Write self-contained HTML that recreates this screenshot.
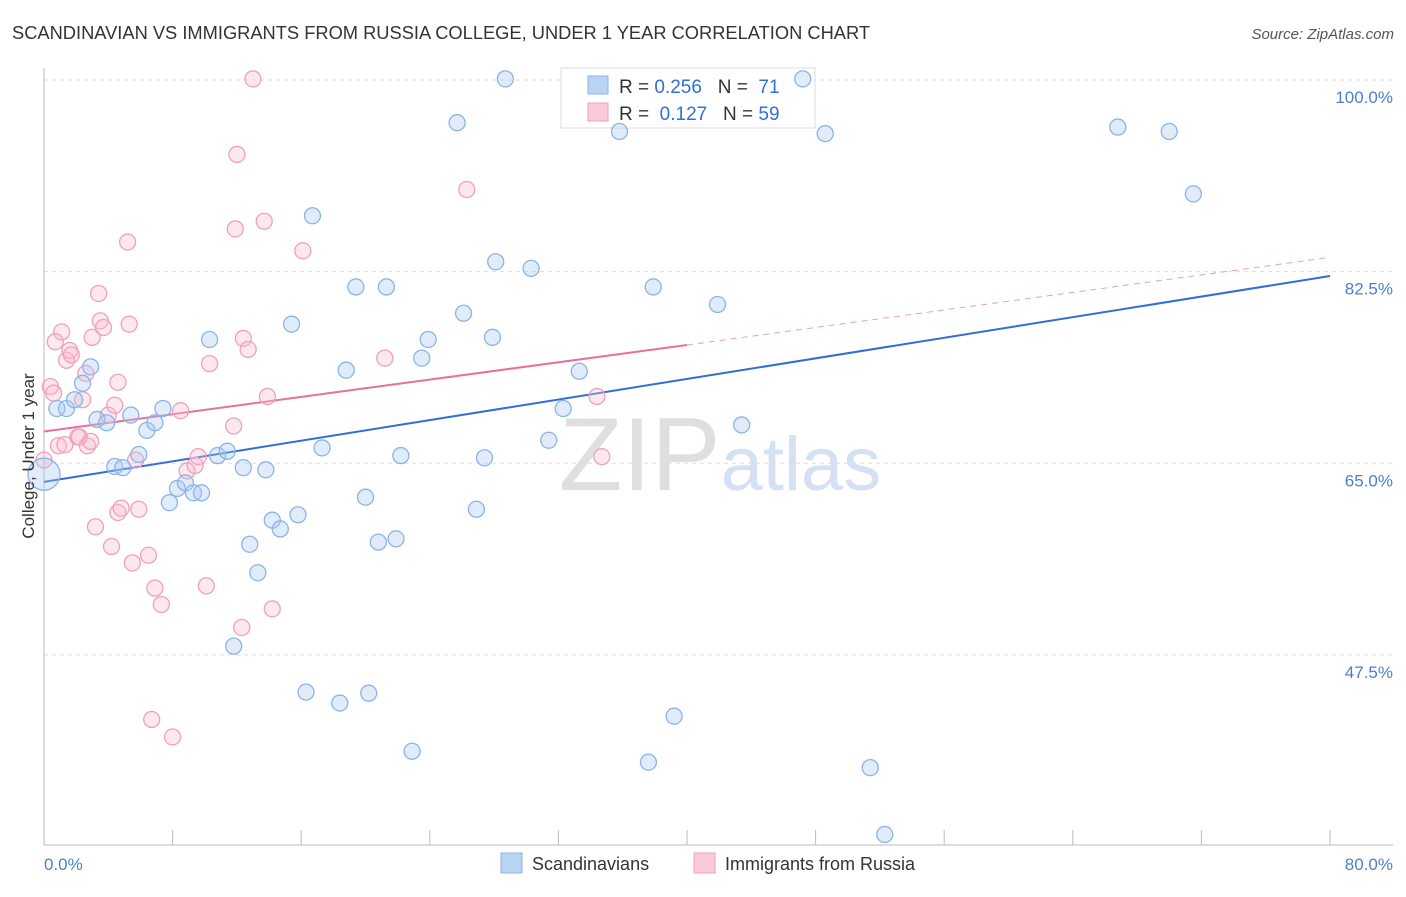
<!DOCTYPE html>
<html><head><meta charset="utf-8"><style>
body{margin:0;background:#fff;font-family:"Liberation Sans",sans-serif}
svg text{font-family:"Liberation Sans",sans-serif}
</style></head><body>
<svg id="chart" width="1406" height="892" viewBox="0 0 1406 892" xmlns="http://www.w3.org/2000/svg">
<text x="12" y="39" font-size="18.3" fill="#333">SCANDINAVIAN VS IMMIGRANTS FROM RUSSIA COLLEGE, UNDER 1 YEAR CORRELATION CHART</text>
<text x="1394" y="39" font-size="15" fill="#555" text-anchor="end" font-style="italic">Source: ZipAtlas.com</text>
<text x="720" y="490" font-size="104" text-anchor="middle" fill="#ddd" font-family="Liberation Serif" opacity="0.8"><tspan fill="#d8d8d8">ZIP</tspan><tspan fill="#c9daf0" font-family="Liberation Sans" font-size="76">atlas</tspan></text>
<g id="grid"></g><g id="axes"></g><g id="trends"></g>
<g>
<rect x="561" y="68" width="254" height="60" fill="#fff" stroke="#ddd"/>
<rect x="588" y="76" width="20" height="18" fill="#b9d3f3" stroke="#8ab4e8"/>
<text x="619" y="93" font-size="19" fill="#333" xml:space="preserve" style="white-space:pre">R = <tspan fill="#2f6fd6">0.256</tspan>   N =  <tspan fill="#2f6fd6">71</tspan></text>
<rect x="588" y="103" width="20" height="18" fill="#fbcad8" stroke="#f0a0b8"/>
<text x="619" y="120" font-size="19" fill="#333" xml:space="preserve" style="white-space:pre">R =  <tspan fill="#2f6fd6">0.127</tspan>   N = <tspan fill="#2f6fd6">59</tspan></text>
</g>
<g id="points"></g>
<text transform="translate(34,456) rotate(-90)" font-size="17" fill="#333" text-anchor="middle">College, Under 1 year</text>
<text x="44" y="870" font-size="17" fill="#4a7fd4">0.0%</text>
<text x="1393" y="870" font-size="17" fill="#4a7fd4" text-anchor="end">80.0%</text>
<g>
<rect x="501" y="853" width="21" height="20" fill="#b9d3f3" stroke="#8ab4e8"/>
<text x="532" y="870" font-size="18" fill="#333">Scandinavians</text>
<rect x="694" y="853" width="21" height="20" fill="#fbcad8" stroke="#f0a0b8"/>
<text x="725" y="870" font-size="18" fill="#333">Immigrants from Russia</text>
</g>
</svg>
<script>
const yTicks=[100,82.5,65,47.5];
const xTicks=[0,8,16,24,32,40,48,56,64,72,80];
const blueX=[0,0.8,1.4,1.9,2.4,2.9,3.3,3.9,4.4,4.9,5.4,5.9,6.4,6.9,7.4,7.8,8.3,8.8,9.3,9.8,10.3,10.8,11.4,11.8,12.4,12.8,13.3,13.8,14.2,14.7,15.4,15.8,16.3,16.7,17.3,18.4,18.8,19.4,20.0,20.2,20.8,21.3,21.9,22.2,22.9,23.5,23.9,25.7,26.1,26.9,27.4,27.9,28.1,28.7,30.3,31.4,32.3,33.3,35.8,37.6,37.9,39.2,41.9,43.4,47.2,48.6,51.4,52.3,66.8,70.0,71.5];
const blueY=[64.0,70.0,70.0,70.8,72.3,73.8,69.0,68.7,64.7,64.6,69.4,65.8,68.0,68.7,70.0,61.4,62.7,63.2,62.3,62.3,76.3,65.7,66.1,48.3,64.6,57.6,55.0,64.4,59.8,59.0,77.7,60.3,44.1,87.6,66.4,43.1,73.5,81.1,61.9,44.0,57.8,81.1,58.1,65.7,38.7,74.6,76.3,96.1,78.7,60.8,65.5,76.5,83.4,100.1,82.8,67.1,70.0,73.4,95.3,37.7,81.1,41.9,79.5,68.5,100.1,95.1,37.2,31.1,95.7,95.3,89.6];
const pinkX=[0,0.4,0.6,0.9,1.1,0.7,1.4,1.6,1.7,2.1,2.2,2.4,2.6,2.7,2.9,3.0,3.2,3.4,3.5,3.7,4.0,4.2,4.4,4.6,4.6,4.8,5.2,5.3,5.5,5.7,5.9,6.5,6.9,7.3,6.7,8.0,8.5,8.9,9.4,9.6,10.1,10.3,11.8,11.9,12.0,12.3,12.4,12.7,13.0,13.7,13.9,14.2,16.1,21.2,26.3,34.4,34.7,1.3];
const pinkY=[65.3,72.0,71.4,66.6,77.0,76.1,74.4,75.3,74.9,67.4,67.4,70.8,73.2,66.6,67.0,76.5,59.2,80.5,78.0,77.4,69.4,57.4,70.3,72.4,60.5,60.9,85.2,77.7,55.9,65.3,60.8,56.6,53.6,52.1,41.6,40.0,69.8,64.3,64.8,65.6,53.8,74.1,68.4,86.4,93.2,50.0,76.4,75.4,100.1,87.1,71.1,51.7,84.4,74.6,90.0,71.1,65.6,66.7];
const blueTrend=[63.3,82.1];
const pinkTrend=[67.9,75.8,83.8];
const NS="http://www.w3.org/2000/svg";
const X=v=>44+v/80*1286;
const Y=v=>80+(100-v)*10.95;
function mk(tag,attrs,parent){const e=document.createElementNS(NS,tag);for(const k in attrs)e.setAttribute(k,attrs[k]);document.getElementById(parent).appendChild(e);return e;}
yTicks.forEach(t=>{
 const l=mk('line',{x1:44,x2:1393,y1:Y(t),y2:Y(t),stroke:'#ddd','stroke-dasharray':'4,4'},'grid');
 
 
 const tx=mk('text',{x:1393,y:Y(t)+23,'font-size':17,fill:'#4a7fd4','text-anchor':'end'},'grid');
 tx.textContent=t.toFixed(1)+'%';
 
 
});
let a=mk('line',{x1:44,x2:44,y1:68,y2:845,stroke:'#bbb'},'axes');


a=mk('line',{x1:44,x2:1393,y1:845,y2:845,stroke:'#bbb'},'axes');


xTicks.forEach(t=>{
 const l=mk('line',{x1:X(t),x2:X(t),y1:830,y2:845,stroke:'#bbb'},'axes');
 
 
});
let tl=mk('line',{x1:X(0),y1:Y(blueTrend[0]),x2:X(80),y2:Y(blueTrend[1]),stroke:'#2f6fd6','stroke-width':2},'trends');


tl=mk('line',{x1:X(0),y1:Y(pinkTrend[0]),x2:X(40),y2:Y(pinkTrend[1]),stroke:'#e8709a','stroke-width':2},'trends');


tl=mk('line',{x1:X(40),y1:Y(pinkTrend[1]),x2:X(80),y2:Y(pinkTrend[2]),stroke:'#e8a0b8','stroke-width':1,'stroke-dasharray':'6,5'},'trends');


pinkX.forEach((x,i)=>{
 const c=mk('circle',{cx:X(x),cy:Y(pinkY[i]),r:8,fill:'rgba(248,190,208,0.35)',stroke:'#f0a0b8','stroke-width':1.3},'points');
 
 
});
blueX.forEach((x,i)=>{
 const c=mk('circle',{cx:X(x),cy:Y(blueY[i]),r:i===0?16:8,fill:'rgba(170,200,240,0.35)',stroke:'#8ab4e8','stroke-width':1.3},'points');
 
 
});
</script>
</body></html>
